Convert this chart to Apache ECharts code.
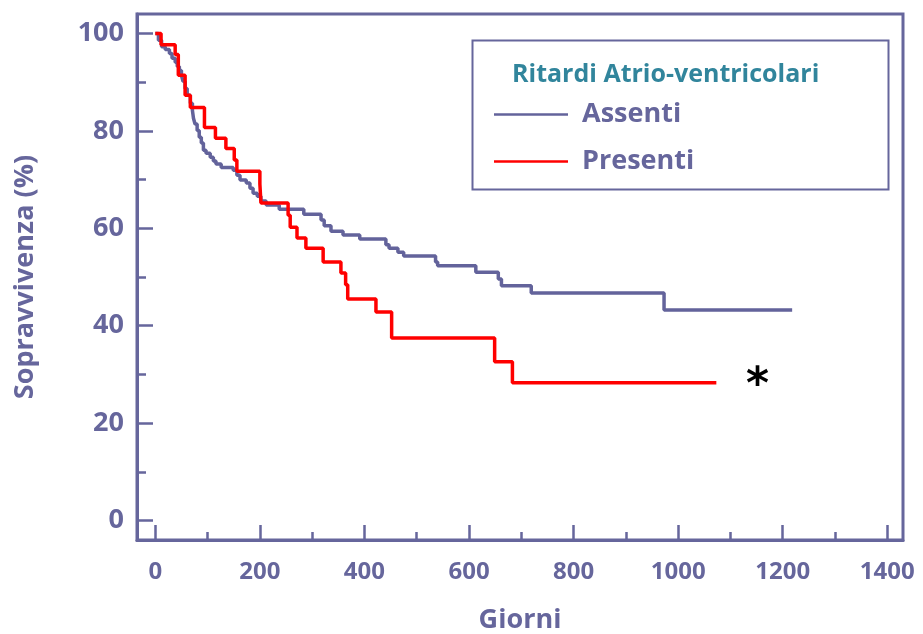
<!DOCTYPE html>
<html>
<head>
<meta charset="utf-8">
<script src="https://cdn.jsdelivr.net/npm/echarts@6/dist/echarts.min.js"></script>
<style>
  html, body { margin: 0; padding: 0; background: #fff; }
  #main { width: 923px; height: 634px; }
</style>
</head>
<body>
<div id="main"></div>
<script>
// Kaplan-Meier curves, values (days, % survival after each step)
var assentiGiorni = [0, 6, 12, 19, 27, 32, 38, 42, 46, 50, 53, 57, 61, 67, 71, 73, 76, 80, 84, 88, 92, 97, 105, 111, 116, 126,
    149, 156, 162, 174, 181, 187, 195, 202, 212, 237, 284, 317, 323, 336, 359, 391, 441, 447, 464, 475, 536, 540,
    613, 656, 662, 719, 973, 1218];
var assentiSopr = [100, 98.6, 97.3, 96.7, 95.9, 94.9, 94.1, 93.2, 92.4, 91.4, 90.2, 88.7, 87.3, 85.7, 84.2, 82.6, 81.4, 80.1, 78.7, 77.5, 76.0, 75.4, 74.6, 73.8, 73.2, 72.5,
    71.9, 70.9, 69.9, 69.3, 68.2, 67.2, 66.6, 65.6, 64.8, 63.9, 62.9, 61.7, 60.5, 59.4, 58.6, 57.8, 56.6, 55.9, 55.1, 54.3, 53.1, 52.3,
    51.0, 49.6, 48.2, 46.7, 43.2, 43.2];

var presentiGiorni = [0, 11, 38, 44, 57, 67, 94, 115, 135, 151, 156, 200, 202, 254, 258, 271, 288, 321, 355, 364, 368, 422, 452, 649, 683, 1073];
var presentiSopr = [100, 97.7, 95.7, 91.4, 87.3, 84.8, 80.7, 78.5, 76.4, 74.0, 71.7, 69.1, 65.2, 62.7, 60.2, 58.0, 55.9, 53.1, 50.8, 48.4, 45.5, 42.8, 37.5, 32.6, 28.3, 28.3];

var yMajor = [0, 20, 40, 60, 80, 100];
var yMinor = [10, 30, 50, 70, 90];
var xMajor = [0, 200, 400, 600, 800, 1000, 1200, 1400];
var xMinor = [100, 300, 500, 700, 900, 1100, 1300];

var axisCol = '#66669c';
var fontMain = "'Open Sans', sans-serif";

function pairs(xs, ys) {
    return xs.map(function (x, i) { return [x, ys[i]]; });
}

var chart = echarts.init(document.getElementById('main'));

var option = {
    animation: false,
    grid: {
        left: 137, right: 20, top: 14, bottom: 94,
        outerBoundsMode: 'none',
        show: true, borderColor: axisCol, borderWidth: 3
    },
    xAxis: [
        {
            type: 'value', min: -35, max: 1430,
            name: 'Giorni', nameLocation: 'middle', nameGap: 67,
            nameTextStyle: { color: axisCol, fontSize: 27, fontWeight: 'bold', fontFamily: fontMain },
            axisLine: { onZero: false, lineStyle: { color: axisCol, width: 3 } },
            axisTick: { inside: true, length: 15, customValues: xMajor, lineStyle: { color: axisCol, width: 2.5 } },
            axisLabel: {
                customValues: xMajor, margin: 20, color: axisCol, fontSize: 24, fontWeight: 'bold',
                fontFamily: fontMain,
                formatter: function (v) { return String(v); }
            },
            splitLine: { show: false }
        },
        {
            // minor ticks
            type: 'value', min: -35, max: 1430, position: 'bottom',
            axisLine: { show: false, onZero: false },
            axisTick: { inside: true, length: 8, customValues: xMinor, lineStyle: { color: axisCol, width: 2.5 } },
            axisLabel: { show: false },
            splitLine: { show: false }
        }
    ],
    yAxis: [
        {
            type: 'value', min: -4, max: 104,
            name: 'Sopravvivenza (%)', nameLocation: 'middle', nameGap: 98,
            nameTextStyle: { color: axisCol, fontSize: 27, fontWeight: 'bold', fontFamily: fontMain },
            axisLine: { show: true, onZero: false, lineStyle: { color: axisCol, width: 3 } },
            axisTick: { show: true, inside: true, length: 16, customValues: yMajor, lineStyle: { color: axisCol, width: 2.5 } },
            axisLabel: { customValues: yMajor, margin: 13, color: axisCol, fontSize: 27, fontWeight: 'bold', fontFamily: fontMain },
            splitLine: { show: false }
        },
        {
            type: 'value', min: -4, max: 104, position: 'left',
            axisLine: { show: false, onZero: false },
            axisTick: { show: true, inside: true, length: 9, customValues: yMinor, lineStyle: { color: axisCol, width: 2.5 } },
            axisLabel: { show: false },
            splitLine: { show: false }
        }
    ],
    legend: {
        orient: 'vertical', left: 489, top: 96,
        icon: 'rect', itemWidth: 74, itemHeight: 2.5, itemGap: 20,
        data: ['Assenti', 'Presenti'],
        textStyle: { color: axisCol, fontSize: 27, fontWeight: 'bold', fontFamily: fontMain, padding: [0, 0, 0, 9], lineHeight: 24 }
    },
    graphic: [
        {
            type: 'rect', left: 470, top: 38,
            shape: { width: 416, height: 149 },
            style: { fill: 'none', stroke: axisCol, lineWidth: 2 }
        },
        {
            type: 'text', left: 512, top: 62,
            style: { text: 'Ritardi Atrio-ventricolari', fill: '#31859c', font: "bold 25px 'Open Sans', sans-serif" }
        },
        {
            type: 'text', left: 746, top: 365,
            style: { text: '*', fill: '#000', font: "bold 44px 'DejaVu Sans', sans-serif" }
        }
    ],
    series: [
        {
            name: 'Assenti', type: 'line', step: 'end',
            showSymbol: false, symbol: 'none',
            xAxisIndex: 0, yAxisIndex: 0,
            lineStyle: { color: '#63639b', width: 3.5 },
            itemStyle: { color: '#63639b' },
            data: pairs(assentiGiorni, assentiSopr)
        },
        {
            name: 'Presenti', type: 'line', step: 'end',
            showSymbol: false, symbol: 'none',
            xAxisIndex: 0, yAxisIndex: 0,
            lineStyle: { color: '#ff0000', width: 3.5 },
            itemStyle: { color: '#ff0000' },
            data: pairs(presentiGiorni, presentiSopr)
        }
    ]
};

chart.setOption(option);
</script>
</body>
</html>
